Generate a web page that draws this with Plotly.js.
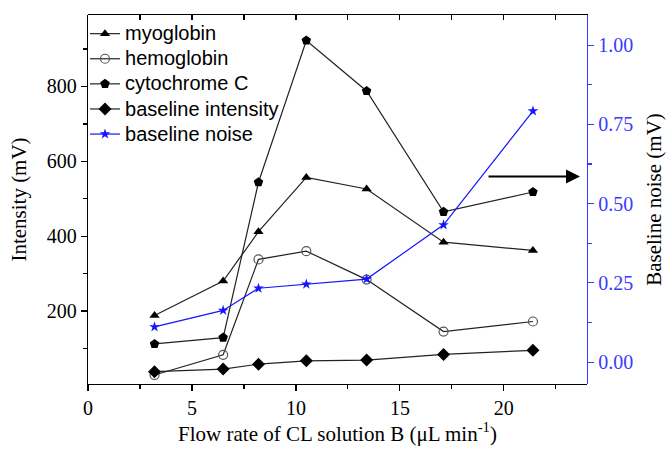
<!DOCTYPE html>
<html>
<head>
<meta charset="utf-8">
<script src="https://cdn.plot.ly/plotly-3.0.1.min.js"></script>
<style>
  html, body { margin: 0; padding: 0; background: #fff; }
  #chart { width: 666px; height: 449px; }
</style>
</head>
<body>
<div id="chart"></div>
<script>
// Flow rate of CL solution B (µL/min)
const flowRate = [3.2, 6.5, 8.2, 10.5, 13.4, 17.1, 21.4];
// Intensity (mV)
const myoglobin = [188, 280, 412, 557, 526, 384, 362];
const hemoglobin = [29, 83, 338, 360, 284, 145, 172];
const cytochromeC = [112, 129, 544, 923, 788, 465, 518];
const baselineIntensity = [38, 45, 58, 67, 69, 84, 95];
// Baseline noise (mV)
const baselineNoise = [0.111, 0.163, 0.233, 0.246, 0.262, 0.433, 0.792];

const seriesNames = ['myoglobin', 'hemoglobin', 'cytochrome C', 'baseline intensity', 'baseline noise'];

const lineBlack = '#222222';
const blue = '#1515ff';
const axisBlue = '#3a3aff';

// legend label: larger glyphs than the legend row spacing font
const lbl = s => '<span style="font-size:20px">' + s + '</span>';

const traces = [
  {
    x: flowRate, y: hemoglobin, name: lbl(seriesNames[1]), type: 'scatter', mode: 'lines+markers',
    line: { color: lineBlack, width: 1.2 },
    marker: { symbol: 'circle-open', size: 9, color: '#555555', line: { width: 1.2, color: '#555555' } },
    legendrank: 2
  },
  {
    x: flowRate, y: baselineIntensity, name: lbl(seriesNames[3]), type: 'scatter', mode: 'lines+markers',
    line: { color: lineBlack, width: 1.2 },
    marker: { symbol: 'diamond', size: 10, color: '#000' },
    legendrank: 4
  },
  {
    x: flowRate, y: myoglobin, name: lbl(seriesNames[0]), type: 'scatter', mode: 'lines+markers',
    line: { color: lineBlack, width: 1.2 },
    marker: { symbol: 'triangle-up', size: 9, color: '#000' },
    legendrank: 1
  },
  {
    x: flowRate, y: cytochromeC, name: lbl(seriesNames[2]), type: 'scatter', mode: 'lines+markers',
    line: { color: lineBlack, width: 1.2 },
    marker: { symbol: 'pentagon', size: 10, color: '#000' },
    legendrank: 3
  },
  {
    x: flowRate, y: baselineNoise, name: lbl(seriesNames[4]), type: 'scatter', mode: 'lines+markers',
    xaxis: 'x2', yaxis: 'y2',
    line: { color: blue, width: 1.2 },
    marker: { symbol: 'star', size: 8, color: blue },
    legendrank: 5
  }
];

const serif = 'Liberation Serif, Times New Roman, serif';
const sans = 'Liberation Sans, Arial, sans-serif';

const layout = {
  width: 666, height: 449,
  margin: { l: 88, r: 79, t: 15, b: 64.5 },
  paper_bgcolor: '#fff', plot_bgcolor: 'rgba(0,0,0,0)',
  showlegend: true,
  legend: {
    x: -0.006, y: 0.997, xanchor: 'left', yanchor: 'top',
    bgcolor: 'rgba(0,0,0,0)', borderwidth: 0,
    font: { family: sans, size: 17, color: '#000' },
    tracegroupgap: 0, itemwidth: 30
  },
  xaxis: {
    domain: [0, 1], anchor: 'y',
    range: [0, 24], tick0: 0, dtick: 5,
    showgrid: false, zeroline: false,
    showline: true, linecolor: '#000', linewidth: 1.2,
    ticks: 'outside', ticklen: 6, tickwidth: 1.2, tickcolor: '#000',
    minor: { dtick: 2.5, ticks: 'outside', ticklen: 4, tickwidth: 1.2, tickcolor: '#000', showgrid: false },
    tickfont: { family: serif, size: 20, color: '#000' },
    title: { text: 'Flow rate of CL solution B (μL min<sup>-1</sup>)', font: { family: serif, size: 21, color: '#000' }, standoff: 8 }
  },
  xaxis2: {
    domain: [0, 1], side: 'top', anchor: 'y2',
    range: [0, 24], tick0: 0, dtick: 5,
    showgrid: false, zeroline: false, showticklabels: false,
    showline: true, linecolor: '#000', linewidth: 1.2,
    ticks: 'inside', ticklen: 5, tickwidth: 1.2, tickcolor: '#000',
    minor: { dtick: 2.5, ticks: 'inside', ticklen: 5, tickwidth: 1.2, tickcolor: '#000', showgrid: false }
  },
  yaxis: {
    domain: [0, 1], anchor: 'x',
    range: [5, 991], tick0: 0, dtick: 200,
    showgrid: false, zeroline: false,
    showline: true, linecolor: '#000', linewidth: 1.2,
    ticks: 'outside', ticklen: 6, tickwidth: 1.2, tickcolor: '#000',
    minor: { dtick: 100, ticks: 'outside', ticklen: 4, tickwidth: 1.2, tickcolor: '#000', showgrid: false },
    tickfont: { family: serif, size: 20, color: '#000' },
    title: { text: 'Intensity (mV)', font: { family: serif, size: 21, color: '#000' }, standoff: 14 }
  },
  yaxis2: {
    domain: [0, 1], side: 'right', anchor: 'x2',
    range: [-0.069, 1.095], tick0: 0, dtick: 0.25, tickformat: '.2f',
    showgrid: false, zeroline: false,
    showline: true, linecolor: axisBlue, linewidth: 1.2,
    ticks: 'outside', ticklen: 6, tickwidth: 1.2, tickcolor: axisBlue,
    minor: { dtick: 0.125, ticks: 'outside', ticklen: 4, tickwidth: 1.2, tickcolor: axisBlue, showgrid: false },
    tickfont: { family: serif, size: 20, color: axisBlue },
    title: { text: 'Baseline noise (mV)', font: { family: serif, size: 21, color: '#000' }, standoff: 14 }
  },
  annotations: [
    {
      xref: 'paper', yref: 'paper', x: 0.986, y: 0.562,
      axref: 'pixel', ayref: 'pixel', ax: -93, ay: 0,
      text: '', showarrow: true, arrowhead: 2, arrowsize: 1.4, arrowwidth: 2, arrowcolor: '#000'
    }
  ]
};

Plotly.newPlot('chart', traces, layout, { displayModeBar: false, staticPlot: true });
</script>
</body>
</html>
